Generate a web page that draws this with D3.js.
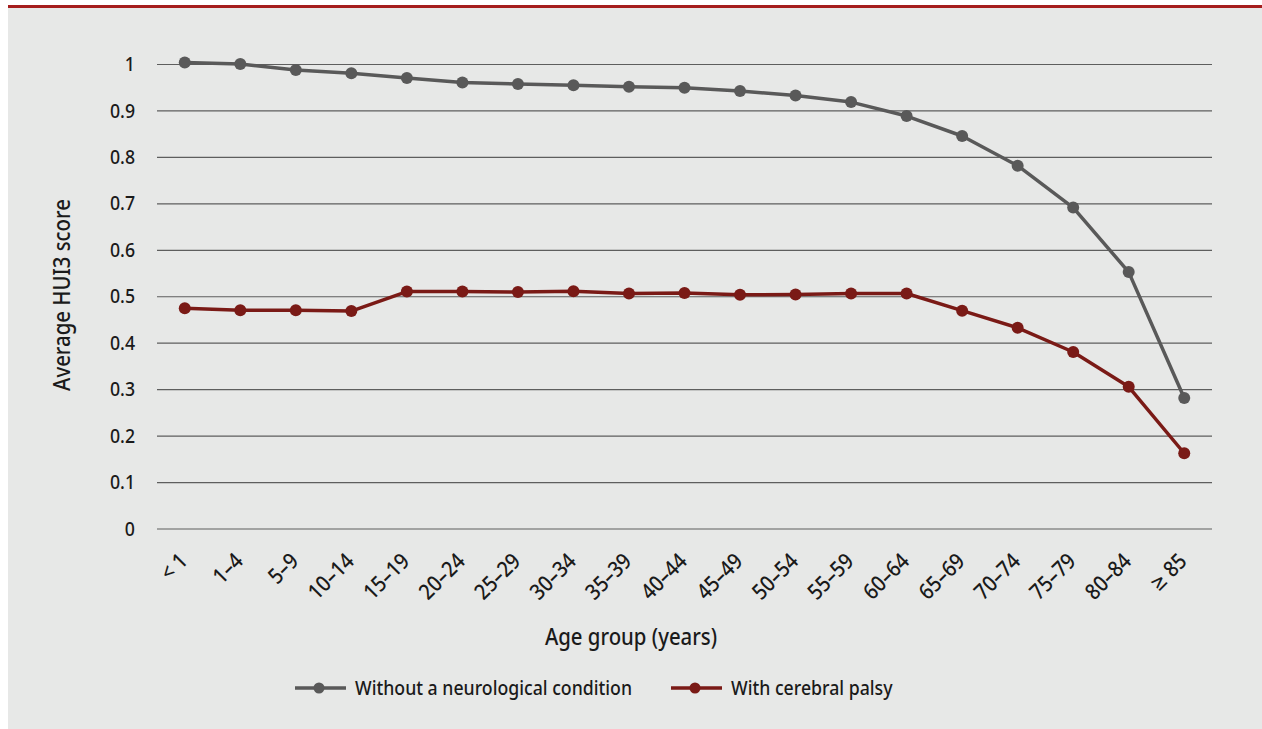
<!DOCTYPE html>
<html><head><meta charset="utf-8">
<script src="https://cdn.jsdelivr.net/npm/d3@7"></script>
<style>
html,body{margin:0;padding:0;background:#fff;}
svg{display:block;}
text{font-family:"Noto Sans","DejaVu Sans Condensed",sans-serif;font-stretch:semi-condensed;font-weight:500;fill:#1a1a1a;}
</style></head><body>
<svg id="chart" width="1262" height="729"></svg>
<script>
const categories = ["< 1","1–4","5–9","10–14","15–19","20–24","25–29","30–34","35–39","40–44","45–49","50–54","55–59","60–64","65–69","70–74","75–79","80–84","≥ 85"];
const withoutNeuro = [1.003,1.0,0.987,0.980,0.970,0.960,0.957,0.954,0.951,0.949,0.942,0.932,0.918,0.888,0.845,0.781,0.691,0.552,0.281];
const cerebralPalsy = [0.474,0.470,0.470,0.468,0.510,0.510,0.509,0.511,0.506,0.507,0.503,0.504,0.506,0.506,0.469,0.432,0.380,0.305,0.162];
const yTicks = [0,0.1,0.2,0.3,0.4,0.5,0.6,0.7,0.8,0.9,1];
const seriesNames = ["Without a neurological condition","With cerebral palsy"];
const seriesColors = ["#595959","#7a1a16"];

(function(){
const svg = d3.select("#chart");
svg.append("rect").attr("x",8).attr("y",6).attr("width",1254).attr("height",723).attr("fill","#e7e8e7");
svg.append("rect").attr("x",8).attr("y",5).attr("width",1254).attr("height",3).attr("fill","#a51d1d");

const mL = 157, mR = 1212, mT = 64, mB = 528.5;
const x = d3.scaleBand().domain(categories).range([mL,mR]).paddingInner(0).paddingOuter(0);
const y = d3.scaleLinear().domain([0,1]).range([mB,mT]);

const yAxis = d3.axisLeft(y).tickValues(yTicks).tickSize(-(mR-mL)).tickFormat(d3.format("~g")).tickPadding(22);
const gy = svg.append("g").attr("transform",`translate(${mL},0)`).call(yAxis);
gy.select(".domain").remove();
gy.selectAll(".tick line").attr("stroke","#5e5e5e").attr("stroke-width",1.2);
gy.selectAll(".tick text").style("font-size","20px").attr("fill","#1a1a1a").attr("dy","0.33em");

const xAxis = d3.axisBottom(x).tickSize(0).tickPadding(0);
const gx = svg.append("g").attr("transform",`translate(0,${mB})`).call(xAxis);
gx.select(".domain").remove();
gx.selectAll(".tick text")
  .style("font-size","22px").attr("fill","#1a1a1a")
  .attr("text-anchor","end").attr("dy",0).attr("y",0)
  .attr("transform","translate(4,34) rotate(-45)");

svg.append("text").attr("x",631).attr("y",645).attr("text-anchor","middle").style("font-size","23px").text("Age group (years)");
svg.append("text").attr("transform","translate(70,295) rotate(-90)").attr("text-anchor","middle").style("font-size","23px").text("Average HUI3 score");

const cx = d => x(d) + x.bandwidth()/2;
[withoutNeuro, cerebralPalsy].forEach((vals,i)=>{
  const data = categories.map((c,j)=>({c, v: vals[j]}));
  svg.append("path").datum(data)
    .attr("fill","none").attr("stroke",seriesColors[i]).attr("stroke-width",3.5).attr("stroke-linejoin","round")
    .attr("d", d3.line().x(d=>cx(d.c)).y(d=>y(d.v)));
  svg.append("g").selectAll("circle").data(data).join("circle")
    .attr("cx",d=>cx(d.c)).attr("cy",d=>y(d.v)).attr("r",6).attr("fill",seriesColors[i]);
});

const legendX = [295, 671];
const legTexts = [];
seriesNames.forEach((n,i)=>{
  const g = svg.append("g").attr("transform",`translate(${legendX[i]},688)`);
  g.append("line").attr("x1",0).attr("x2",51).attr("y1",0).attr("y2",0).attr("stroke",seriesColors[i]).attr("stroke-width",3.5);
  g.append("circle").attr("cx",24).attr("cy",0).attr("r",5.5).attr("fill",seriesColors[i]);
  legTexts.push(g.append("text").attr("x",60).attr("y",7).style("font-size","20px").text(n));
});

// match the reference's text widths
const w = legTexts[0].node().getComputedTextLength();
const ratio = 277 / w;
if (Math.abs(ratio - 1) > 0.04) {
  svg.selectAll("text").each(function(){
    const L = this.getComputedTextLength();
    d3.select(this).attr("textLength", L*ratio).attr("lengthAdjust","spacingAndGlyphs");
  });
}
})();
</script>
</body></html>
